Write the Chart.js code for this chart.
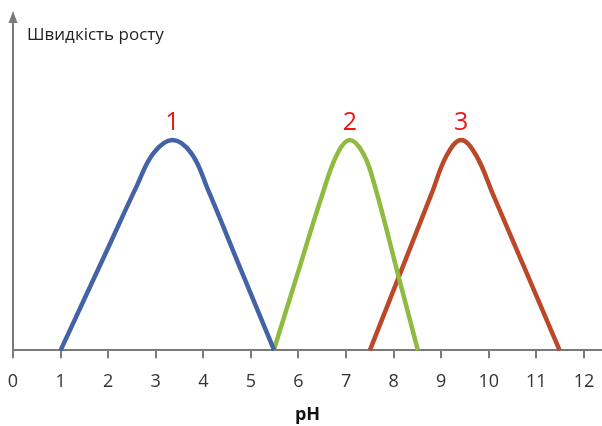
<!DOCTYPE html>
<html>
<head>
<meta charset="utf-8">
<script src="https://cdn.jsdelivr.net/npm/chart.js@4.4.1/dist/chart.umd.min.js"></script>
<style>
  html, body { margin: 0; padding: 0; background: #fff; }
  #wrap { width: 602px; height: 426px; position: relative; }
</style>
</head>
<body>
<div id="wrap"><canvas id="grafico"></canvas></div>
<script>
// curve 1
const curva1X = [1, 2.0, 2.6, 2.95, 3.35, 3.75, 4.1, 4.8, 5.49];
const curva1Y = [0, 3.23, 5.17, 6.2, 6.62, 6.2, 5.05, 2.5, 0];
// curve 2
const curva2X = [5.48, 6.0, 6.5, 6.82, 7.08, 7.36, 7.6, 8.1, 8.51];
const curva2Y = [0, 2.5, 4.9, 6.2, 6.62, 6.2, 5.2, 2.35, 0];
// curve 3
const curva3X = [7.5, 8.2, 8.8, 9.12, 9.42, 9.73, 10.1, 10.8, 11.49];
const curva3Y = [0, 2.66, 4.94, 6.15, 6.62, 6.15, 4.87, 2.42, 0];

const etiquetas = ['1', '2', '3'];
const colores = ['#4463a6', '#8fbb40', '#bb4829'];
const tituloY = 'Швидкість росту';
const tituloX = 'pH';

function puntos(xs, ys) { return xs.map((x, i) => ({ x: x, y: ys[i] })); }

const series = [puntos(curva1X, curva1Y), puntos(curva2X, curva2Y), puntos(curva3X, curva3Y)];
const ejeColor = '#7a7a7a';

const decoraciones = {
  id: 'decoraciones',
  afterDraw(chart) {
    const ctx = chart.ctx;
    const area = chart.chartArea;
    const xs = chart.scales.x, ys = chart.scales.y;
    ctx.save();
    // arrow head on y axis
    ctx.fillStyle = ejeColor;
    ctx.beginPath();
    ctx.moveTo(area.left, area.top - 9);
    ctx.lineTo(area.left - 4.5, area.top + 3);
    ctx.lineTo(area.left + 4.5, area.top + 3);
    ctx.closePath();
    ctx.fill();
    // y title
    ctx.fillStyle = '#222';
    ctx.font = '17px "Open Sans"';
    ctx.textAlign = 'left';
    ctx.textBaseline = 'middle';
    ctx.fillText(tituloY, 27, 35);
    // curve numbers above peaks
    ctx.fillStyle = '#f01414';
    ctx.font = '25px "Open Sans"';
    ctx.textAlign = 'center';
    series.forEach((s, i) => {
      let pico = s[0];
      s.forEach(p => { if (p.y > pico.y) pico = p; });
      ctx.fillText(etiquetas[i], xs.getPixelForValue(pico.x), ys.getPixelForValue(pico.y) - 17);
    });
    ctx.restore();
  }
};

new Chart(document.getElementById('grafico'), {
  type: 'line',
  data: {
    datasets: series.map((s, i) => ({
      label: etiquetas[i],
      data: s,
      borderColor: colores[i],
      borderWidth: 4.5,
      pointRadius: 0,
      tension: 0.4,
      fill: false,
      clip: false
    }))
  },
  options: {
    responsive: true,
    maintainAspectRatio: false,
    animation: false,
    layout: { padding: { left: 13, right: 0, top: 20, bottom: 0 } },
    plugins: { legend: { display: false }, tooltip: { enabled: false } },
    scales: {
      x: {
        type: 'linear',
        min: 0,
        max: 12.38,
        ticks: {
          stepSize: 1,
          includeBounds: false,
          autoSkip: false,
          maxRotation: 0,
          padding: 7,
          color: '#333',
          font: { family: 'Open Sans', size: 18, lineHeight: 1.78 }
        },
        grid: { drawOnChartArea: false, drawTicks: true, tickLength: 8, color: ejeColor, lineWidth: 2 },
        border: { display: true, color: ejeColor, width: 2 },
        title: {
          display: true,
          text: tituloX,
          color: '#111',
          font: { family: 'Open Sans', size: 18, weight: 'bold' },
          padding: { top: 0, bottom: 0 }
        }
      },
      y: {
        min: 0,
        max: 10.4,
        ticks: { display: false },
        grid: { drawOnChartArea: false, drawTicks: false },
        border: { display: true, color: ejeColor, width: 2 }
      }
    }
  },
  plugins: [decoraciones]
});
</script>
</body>
</html>
